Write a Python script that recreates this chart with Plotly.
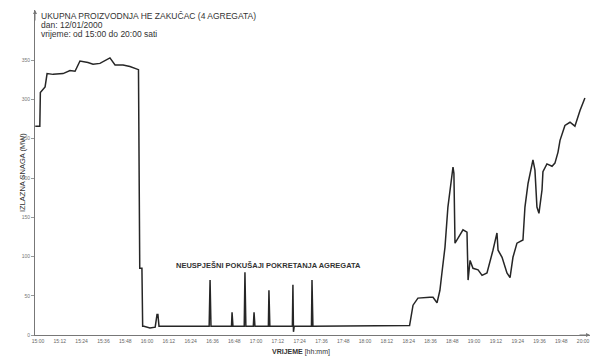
import plotly.graph_objects as go

# time in minutes after 15:00, output power in MW
t_min = [-1.5, 1.0, 1.3, 3.9, 5.0, 8.3, 13.8, 17.6, 20.4, 23.1, 27.5, 30.3, 34.1, 39.6, 42.4,
         46.8, 50.6, 53.4, 55.3, 56.0, 57.2, 57.6, 58.3, 61.6, 64.5, 65.5, 66.0, 66.6, 67.3,
         94.2, 94.7, 95.2, 106.5, 106.8, 107.3, 113.5, 113.9, 114.4, 118.5, 118.9, 119.4,
         126.8, 127.1, 127.6, 140.0, 140.3, 140.6, 141.0, 150.5, 150.8, 151.3,
         204.5, 206.4, 209.1, 215.7, 217.4, 219.6, 221.2, 222.3, 224.0, 225.6, 226.7, 228.4,
         228.9, 229.5, 231.1, 233.9, 236.1, 236.7, 237.8, 239.4, 242.2, 244.4, 247.1, 248.8,
         250.4, 252.6, 253.2, 255.4, 258.1, 259.8, 261.4, 263.6, 266.9, 268.0, 269.7, 272.4,
         273.5, 274.6, 275.7, 277.4, 277.9, 280.1, 282.9, 284.5, 286.2, 287.3, 290.0, 292.8,
         295.5, 298.3, 301.0]
power_mw = [266, 266, 309, 316, 333, 332, 333, 337, 336, 349, 347, 345, 346, 353, 344,
            344, 342, 340, 338, 85, 85, 11, 11, 9, 10, 26, 26, 11, 11,
            11, 70, 11, 11, 29, 11, 11, 80, 11, 11, 29, 11,
            11, 57, 11, 11, 64, 4, 11, 11, 70, 11,
            12, 38, 47, 48, 48, 41, 57, 79, 112, 163, 185, 214,
            206, 117, 123, 134, 131, 70, 95, 85, 83, 76, 79, 93,
            108, 130, 108, 99, 79, 73, 99, 117, 121, 163, 193, 223,
            210, 163, 155, 185, 208, 218, 215, 219, 233, 248, 267, 271,
            266, 286, 302]

tick_min = list(range(0, 301, 12))
tick_labels = ["%02d:%02d" % (15 + m // 60, m % 60) for m in tick_min]
y_ticks = [0, 50, 100, 150, 200, 250, 300, 350]

title_lines = ["UKUPNA PROIZVODNJA HE ZAKUČAC (4 AGREGATA)",
               "dan: 12/01/2000",
               "vrijeme: od 15:00 do 20:00 sati"]
note_text = "NEUSPJEŠNI POKUŠAJI POKRETANJA AGREGATA"

fig = go.Figure()
fig.add_trace(go.Scatter(x=t_min, y=power_mw, mode="lines",
                         line=dict(color="#262626", width=1.5), showlegend=False,
                         hoverinfo="skip"))

# page body has an 8px margin, so the figure is sized/margined to compensate
font = "Liberation Sans, Arial, sans-serif"
fig.update_layout(
    width=593, height=350,
    margin=dict(l=27, r=11, t=2, b=23),
    paper_bgcolor="white", plot_bgcolor="white",
    font=dict(family=font, color="#444", size=6),
    xaxis=dict(range=[-1.65, 303.8], tickvals=tick_min, ticktext=tick_labels,
               showgrid=False, zeroline=False, showline=True, linecolor="#777",
               linewidth=1, ticks="", tickfont=dict(size=5, color="#666"),
               ticklabelstandoff=1, automargin=False),
    yaxis=dict(range=[0, 414], tickvals=y_ticks, showgrid=False, zeroline=False,
               showline=True, linecolor="#777", linewidth=1, ticks="outside",
               ticklen=3, tickcolor="#999", tickfont=dict(size=5, color="#777"),
               automargin=False),
)

for i, line in enumerate(title_lines):
    fig.add_annotation(xref="paper", yref="paper", x=0.008, y=1.0, yshift=1 - i * 9,
                       xanchor="left", yanchor="top", showarrow=False, align="left",
                       text=line, font=dict(size=8.5, color="#333"))
fig.add_annotation(x=127, y=88, text="<b>" + note_text + "</b>", showarrow=False,
                   font=dict(size=7.5, color="#333"), xanchor="center")
fig.add_annotation(xref="paper", yref="paper", x=0.48, y=0, yshift=-17,
                   yanchor="middle", text="<b>VRIJEME</b> [hh:mm]", showarrow=False,
                   font=dict(size=7, color="#333"))
fig.add_annotation(xref="paper", yref="paper", x=0, xshift=-19, y=0.5,
                   text="IZLAZNA SNAGA (MW)", textangle=-90, showarrow=False,
                   font=dict(size=7.5, color="#333"))
# axis arrow heads
fig.add_annotation(xref="paper", yref="paper", x=0, y=1.0, ax=0, ay=12,
                   showarrow=True, arrowhead=2, arrowsize=0.8, arrowwidth=1,
                   arrowcolor="#777", text="")
fig.add_annotation(xref="paper", yref="paper", x=1.0, y=0, ax=-12, ay=0,
                   showarrow=True, arrowhead=2, arrowsize=0.8, arrowwidth=1,
                   arrowcolor="#777", text="")

fig.write_html("out.html")
